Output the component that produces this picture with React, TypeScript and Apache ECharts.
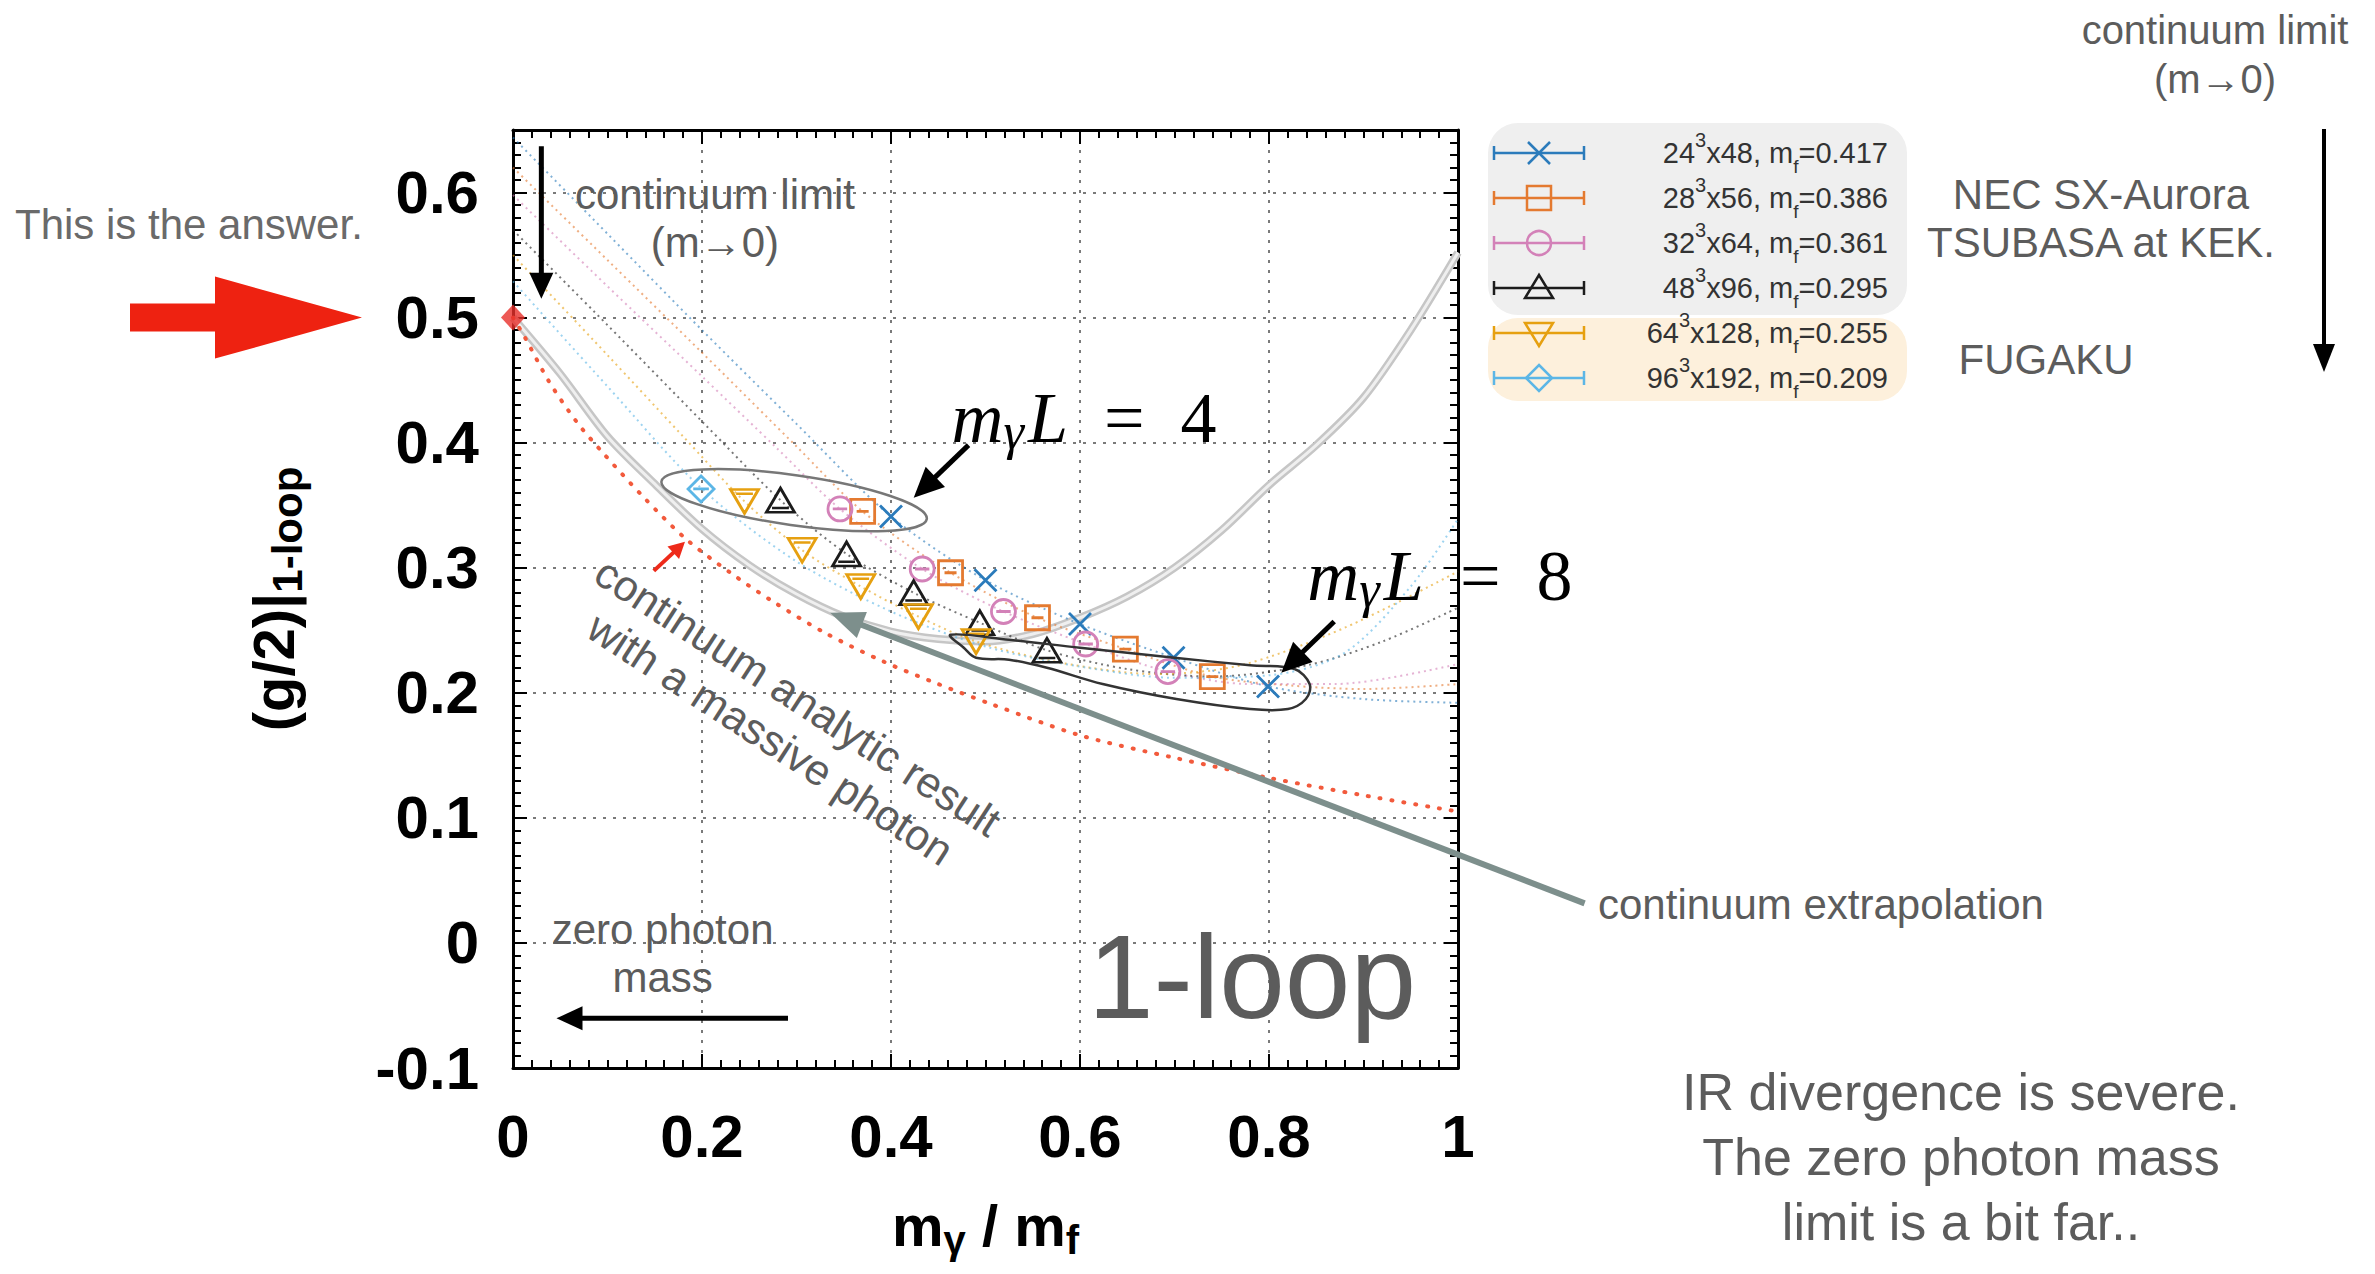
import React, { useEffect, useRef } from 'react';
import * as echarts from 'echarts';

const SANS = "'Liberation Sans', Arial, Helvetica, sans-serif";
const SERIF = "'Liberation Serif', 'Times New Roman', serif";
const ANNOT = '#5c5c5c';

const xTickLabels = ['0', '0.2', '0.4', '0.6', '0.8', '1'];
const yTickLabels = ['-0.1', '0', '0.1', '0.2', '0.3', '0.4', '0.5', '0.6'];

const latticeL = ['24', '28', '32', '48', '64', '96'];
const latticeT = ['48', '56', '64', '96', '128', '192'];
const fermionMasses = ['0.417', '0.386', '0.361', '0.295', '0.255', '0.209'];
const seriesColors = ['#2b7bbb', '#e47a30', '#d381b8', '#1c1c1c', '#e6a010', '#5cb6e6'];
const markerKinds = ['cross', 'square', 'circle', 'triangle', 'triangleDown', 'diamond'];

// lattice data (m_gamma / m_f , (g/2)|1-loop)
const x24 = [0.400, 0.500, 0.600, 0.699, 0.799];
const y24 = [0.341, 0.290, 0.255, 0.228, 0.205];
const x28 = [0.370, 0.463, 0.555, 0.648, 0.740];
const y28 = [0.345, 0.296, 0.260, 0.235, 0.213];
const x32 = [0.346, 0.433, 0.519, 0.606, 0.693];
const y32 = [0.347, 0.299, 0.265, 0.239, 0.217];
const x48 = [0.283, 0.353, 0.424, 0.494, 0.565];
const y48 = [0.354, 0.311, 0.280, 0.256, 0.234];
const x64 = [0.245, 0.306, 0.368, 0.429, 0.490];
const y64 = [0.353, 0.314, 0.285, 0.261, 0.241];
const x96 = [0.199];
const y96 = [0.363];

// dotted fit curves
const fx24 = [0, 0.1, 0.2, 0.3, 0.4, 0.5, 0.6, 0.7, 0.8, 0.9, 1.0];
const fy24 = [0.644, 0.567, 0.490, 0.415, 0.341, 0.290, 0.255, 0.228, 0.205, 0.195, 0.192];
const fx28 = [0, 0.1, 0.2, 0.3, 0.370, 0.463, 0.555, 0.648, 0.740, 0.82, 0.9, 1.0];
const fy28 = [0.620, 0.546, 0.472, 0.397, 0.345, 0.296, 0.260, 0.235, 0.213, 0.206, 0.203, 0.207];
const fx32 = [0, 0.1, 0.2, 0.28, 0.346, 0.433, 0.519, 0.606, 0.693, 0.78, 0.87, 1.0];
const fy32 = [0.598, 0.525, 0.453, 0.395, 0.347, 0.299, 0.265, 0.239, 0.217, 0.207, 0.207, 0.223];
const fx48 = [0, 0.1, 0.2, 0.283, 0.353, 0.424, 0.494, 0.565, 0.65, 0.74, 0.84, 0.92, 1.0];
const fy48 = [0.570, 0.494, 0.417, 0.354, 0.311, 0.280, 0.256, 0.234, 0.219, 0.213, 0.222, 0.241, 0.268];
const fx64 = [0, 0.1, 0.18, 0.245, 0.306, 0.368, 0.429, 0.490, 0.58, 0.68, 0.77, 0.88, 1.0];
const fy64 = [0.550, 0.470, 0.405, 0.353, 0.314, 0.285, 0.261, 0.241, 0.224, 0.215, 0.222, 0.252, 0.297];
const fx96 = [0, 0.1, 0.2, 0.3, 0.4, 0.5, 0.6, 0.7, 0.8, 0.88, 0.95, 1.0];
const fy96 = [0.529, 0.445, 0.363, 0.305, 0.265, 0.237, 0.221, 0.212, 0.214, 0.232, 0.285, 0.339];

// continuum extrapolation (grey band)
const greyX = [0, 0.05, 0.1, 0.15, 0.2, 0.25, 0.3, 0.35, 0.4, 0.45, 0.5, 0.55, 0.6, 0.65, 0.7, 0.75, 0.8, 0.85, 0.9, 0.95, 1.0];
const greyY = [0.5, 0.455, 0.405, 0.367, 0.331, 0.302, 0.279, 0.261, 0.249, 0.243, 0.241, 0.247, 0.26, 0.277, 0.3, 0.33, 0.366, 0.398, 0.436, 0.49, 0.552];

// continuum analytic result with a massive photon (red dotted)
const redX = [0, 0.012, 0.038, 0.068, 0.095, 0.14, 0.183, 0.23, 0.275, 0.33, 0.392, 0.45, 0.506, 0.6, 0.7, 0.8, 0.9, 1.0];
const redY = [0.5, 0.485, 0.449, 0.416, 0.392, 0.355, 0.323, 0.296, 0.273, 0.248, 0.225, 0.207, 0.191, 0.166, 0.148, 0.132, 0.118, 0.105];

// the answer
const answerX = [0];
const answerY = [0.5];

// m_gamma L = 8 loop outline
const loopX = [0.463, 0.525, 0.600, 0.700, 0.780, 0.827, 0.843, 0.839, 0.820, 0.780, 0.702, 0.624, 0.565, 0.525, 0.490, 0.477];
const loopY = [0.2464, 0.2424, 0.236, 0.228, 0.222, 0.219, 0.207, 0.195, 0.187, 0.187, 0.195, 0.207, 0.220, 0.2265, 0.228, 0.236];

const fitX = [fx24, fx28, fx32, fx48, fx64, fx96];
const fitY = [fy24, fy28, fy32, fy48, fy64, fy96];
const ptX = [x24, x28, x32, x48, x64, x96];
const ptY = [y24, y28, y32, y48, y64, y96];

const symbolPaths: Record<string, string> = {
  cross: 'path://M0,0L20,20M20,0L0,20',
  square: 'path://M0,0H20V20H0Z M5,10H15',
  circle: 'path://M0,10A10,10,0,1,0,20,10A10,10,0,1,0,0,10Z M4,10H16',
  triangle: 'path://M10,0L20,17H0Z M4,14H16',
  triangleDown: 'path://M0,0H20L10,17Z M4,3H16',
  diamond: 'path://M10,0L20,10L10,20L0,10Z M4,10H16',
};
const symbolSizes: Record<string, number[]> = {
  cross: [22, 22], square: [24, 24], circle: [24, 24], triangle: [28, 24], triangleDown: [28, 24], diamond: [26, 26],
};

const zip = (a: number[], b: number[]) => a.map((v, i) => [v, b[i]]);

function arrowEls(a: number[], b: number[], color: string, lw: number, hl: number, hw: number) {
  const dx = b[0] - a[0], dy = b[1] - a[1];
  const len = Math.hypot(dx, dy);
  const ux = dx / len, uy = dy / len;
  const bx = b[0] - ux * hl, by = b[1] - uy * hl;
  const px = -uy, py = ux;
  return [
    { type: 'line', z: 60, shape: { x1: a[0], y1: a[1], x2: bx + ux * 2, y2: by + uy * 2 }, style: { stroke: color, lineWidth: lw } },
    { type: 'polygon', z: 60, shape: { points: [[b[0], b[1]], [bx + px * hw / 2, by + py * hw / 2], [bx - px * hw / 2, by - py * hw / 2]] }, style: { fill: color } },
  ];
}

function textEl(text: string, x: number, y: number, size: number, align: string, extra: any = {}) {
  return {
    type: 'text', z: 60, x, y, rotation: extra.rotation || 0,
    style: {
      text, fill: extra.fill || ANNOT, fontSize: size, fontFamily: SANS, fontWeight: extra.fontWeight || 'normal',
      align, textAlign: align, verticalAlign: 'middle', textVerticalAlign: 'middle', lineHeight: extra.lineHeight || size * 1.15,
      rich: extra.rich,
    },
  };
}

function legendMarker(kind: string, cx: number, cy: number, color: string) {
  const st = { stroke: color, lineWidth: 2.5, fill: 'none' };
  if (kind === 'cross') return [
    { type: 'line', z: 61, shape: { x1: cx - 11, y1: cy - 11, x2: cx + 11, y2: cy + 11 }, style: st },
    { type: 'line', z: 61, shape: { x1: cx + 11, y1: cy - 11, x2: cx - 11, y2: cy + 11 }, style: st },
  ];
  if (kind === 'square') return [{ type: 'rect', z: 61, shape: { x: cx - 12, y: cy - 12, width: 24, height: 24 }, style: st }];
  if (kind === 'circle') return [{ type: 'circle', z: 61, shape: { cx, cy, r: 12 }, style: st }];
  if (kind === 'triangle') return [{ type: 'polygon', z: 61, shape: { points: [[cx, cy - 13], [cx + 14, cy + 10], [cx - 14, cy + 10]] }, style: st }];
  if (kind === 'triangleDown') return [{ type: 'polygon', z: 61, shape: { points: [[cx - 14, cy - 10], [cx + 14, cy - 10], [cx, cy + 13]] }, style: st }];
  return [{ type: 'polygon', z: 61, shape: { points: [[cx, cy - 13], [cx + 13, cy], [cx, cy + 13], [cx - 13, cy]] }, style: st }];
}

function buildGraphics(P: (x: number, y: number) => number[]) {
  const els: any[] = [];
  const y05 = P(0, 0.5)[1];
  // big red arrow "This is the answer."
  els.push({
    type: 'polygon', z: 60,
    shape: { points: [[130, y05 - 14], [215, y05 - 14], [215, y05 - 41], [362, y05], [215, y05 + 41], [215, y05 + 14], [130, y05 + 14]] },
    style: { fill: '#ee2211' },
  });
  els.push(textEl('This is the answer.', 15, 224, 42, 'left', { fill: '#6a6a6a' }));

  // continuum limit inside plot
  const cl = P(0.2137, 0.579);
  els.push(textEl('continuum limit\n(m→0)', cl[0], cl[1], 42, 'center', { lineHeight: 48 }));
  els.push(...arrowEls(P(0.030, 0.637), P(0.030, 0.515), '#000', 5, 26, 24));

  // m_gamma L = 4 ellipse
  const ec = P(0.2975, 0.354);
  els.push({ type: 'ellipse', z: 59, x: ec[0], y: ec[1], rotation: -0.14, shape: { cx: 0, cy: 0, rx: 134, ry: 25 }, style: { fill: 'none', stroke: '#777', lineWidth: 2.5 } });
  els.push(...arrowEls(P(0.482, 0.398), P(0.424, 0.356), '#000', 5, 30, 28));
  const mathRich = {
    i: { fontFamily: SERIF, fontStyle: 'italic', fontSize: 72, lineHeight: 80, fill: '#000' },
    g: { fontFamily: SERIF, fontStyle: 'italic', fontSize: 52, lineHeight: 26, verticalAlign: 'bottom', fill: '#000', padding: [0, 4, 0, 0] },
    n: { fontFamily: SERIF, fontSize: 72, lineHeight: 80, fill: '#000' },
  };
  const t4 = P(0.464, 0.42);
  els.push(textEl('{i|m}{g|γ}{i|L}{n|  =  4}', t4[0], t4[1], 72, 'left', { rich: mathRich, fill: '#000' }));
  const t8 = P(0.8406, 0.2935);
  els.push(textEl('{i|m}{g|γ}{i|L}{n|  =  8}', t8[0], t8[1], 72, 'left', { rich: mathRich, fill: '#000' }));

  // m_gamma L = 8 loop
  const loopPts = loopX.map((x, i) => P(x, loopY[i]));
  els.push({ type: 'polygon', z: 59, shape: { points: loopPts, smooth: 0.35 }, style: { fill: 'none', stroke: '#333', lineWidth: 2.5 } });
  els.push(...arrowEls(P(0.869, 0.257), P(0.813, 0.216), '#000', 5, 30, 28));

  // red small arrow and rotated label
  els.push(...arrowEls(P(0.149, 0.2975), P(0.182, 0.3207), '#ee2a1a', 4, 16, 17));
  const rt = P(0.287, 0.180);
  els.push(textEl('continuum analytic result\nwith a massive photon', rt[0], rt[1], 43, 'center', { rotation: -0.576, lineHeight: 50 }));

  // continuum extrapolation arrow
  els.push(...arrowEls(P(1.134, 0.0316), P(0.3356, 0.264), '#7d8f8c', 6, 34, 28));
  els.push(textEl('continuum extrapolation', 1598, 904, 42, 'left'));

  // zero photon mass
  const zp = P(0.1583, -0.0084);
  els.push(textEl('zero photon\nmass', zp[0], zp[1], 42, 'center', { lineHeight: 48 }));
  els.push(...arrowEls(P(0.291, -0.0603), P(0.046, -0.0603), '#000', 5, 26, 24));

  // 1-loop
  const ol = P(0.782, -0.027);
  els.push(textEl('1-loop', ol[0], ol[1], 118, 'center'));

  // bottom right remark
  els.push(textEl('IR divergence is severe.\nThe zero photon mass\nlimit is a bit far..', 1961, 1157, 52, 'center', { lineHeight: 65 }));

  // legend boxes
  els.push({ type: 'rect', z: 10, shape: { x: 1488, y: 123, width: 419, height: 192, r: 30 }, style: { fill: '#efefef' } });
  els.push({ type: 'rect', z: 10, shape: { x: 1488, y: 318, width: 419, height: 83, r: 30 }, style: { fill: '#fdf0dc' } });
  const legRich = {
    n: { fontFamily: SANS, fontSize: 29, lineHeight: 34, fill: '#333' },
    p: { fontFamily: SANS, fontSize: 20, lineHeight: 46, verticalAlign: 'top', fill: '#333' },
    s: { fontFamily: SANS, fontSize: 19, lineHeight: 16, verticalAlign: 'bottom', fill: '#333' },
  };
  latticeL.forEach((ls, i) => {
    const cy = 153 + i * 45;
    const c = seriesColors[i];
    const st = { stroke: c, lineWidth: 2.5 };
    els.push({ type: 'line', z: 61, shape: { x1: 1494, y1: cy, x2: 1584, y2: cy }, style: st });
    els.push({ type: 'line', z: 61, shape: { x1: 1494, y1: cy - 7, x2: 1494, y2: cy + 7 }, style: st });
    els.push({ type: 'line', z: 61, shape: { x1: 1584, y1: cy - 7, x2: 1584, y2: cy + 7 }, style: st });
    els.push(...legendMarker(markerKinds[i], 1539, cy, c));
    els.push(textEl(`{n|${ls}}{p|3}{n|x${latticeT[i]}, m}{s|f}{n|=${fermionMasses[i]}}`, 1888, cy, 29, 'right', { rich: legRich, fill: '#333' }));
  });

  // right side labels
  els.push(textEl('NEC SX-Aurora\nTSUBASA at KEK.', 2101, 218, 42, 'center', { lineHeight: 48 }));
  els.push(textEl('FUGAKU', 2046, 359, 42, 'center'));
  els.push(textEl('continuum limit\n(m→0)', 2215, 54, 40, 'center', { lineHeight: 49 }));
  els.push(...arrowEls([2324, 129], [2324, 372], '#000', 4, 28, 22));
  return els;
}

const tickStyle = { color: '#000', width: 2 };
const axisLineStyle = { show: true, onZero: false, lineStyle: { color: '#000', width: 3 } };

function xAxisDef(pos: string, main: boolean) {
  return {
    type: 'value', min: 0, max: 1, interval: 0.2, position: pos,
    axisLine: axisLineStyle,
    axisTick: { show: true, inside: true, length: 14, lineStyle: tickStyle },
    minorTick: { show: true, splitNumber: 10, length: 8, lineStyle: tickStyle },
    axisLabel: main ? {
      show: true, margin: 38, fontSize: 60, fontWeight: 'bold', color: '#000', fontFamily: SANS,
      formatter: (v: number) => xTickLabels[Math.round(v / 0.2)] ?? '',
    } : { show: false },
    splitLine: main ? { show: true, lineStyle: { type: [3, 7], color: '#7a7a7a', width: 2 } } : { show: false },
    ...(main ? {
      name: '{b|m}{s|γ}{b| / m}{s|f}', nameLocation: 'middle', nameGap: 122,
      nameTextStyle: {
        rich: {
          b: { fontFamily: SANS, fontSize: 58, fontWeight: 'bold', color: '#000', lineHeight: 70 },
          s: { fontFamily: SANS, fontSize: 40, fontWeight: 'bold', color: '#000', lineHeight: 24, verticalAlign: 'bottom' },
        },
      },
    } : {}),
  };
}

function yAxisDef(pos: string, main: boolean, minor: boolean) {
  return {
    type: 'value', min: -0.1, max: 0.65, interval: minor ? 0.01 : 0.1, position: pos,
    axisLine: minor ? { show: false, onZero: false } : axisLineStyle,
    axisTick: { show: true, inside: true, length: minor ? 8 : 14, lineStyle: tickStyle },
    axisLabel: main ? {
      show: true, margin: 34, fontSize: 60, fontWeight: 'bold', color: '#000', fontFamily: SANS,
      formatter: (v: number) => (v > 0.61 ? '' : yTickLabels[Math.round((v + 0.1) / 0.1)] ?? ''),
    } : { show: false },
    splitLine: main ? { show: true, lineStyle: { type: [3, 7], color: '#7a7a7a', width: 2 } } : { show: false },
    ...(main ? {
      name: '{b|(g/2)|}{s|1-loop}', nameLocation: 'middle', nameGap: 205, nameRotate: 90, nameMoveOverlap: false,
      nameTextStyle: {
        rich: {
          b: { fontFamily: SANS, fontSize: 58, fontWeight: 'bold', color: '#000', lineHeight: 70 },
          s: { fontFamily: SANS, fontSize: 42, fontWeight: 'bold', color: '#000', lineHeight: 24, verticalAlign: 'bottom' },
        },
      },
    } : {}),
  };
}

function buildOption() {
  const series: any[] = [];
  series.push({
    type: 'line', name: 'continuum extrapolation', data: zip(greyX, greyY), smooth: 0.3, showSymbol: false, z: 1,
    lineStyle: { color: '#c6c6c6', width: 8 }, silent: true,
  });
  series.push({
    type: 'line', name: 'continuum extrapolation inner', data: zip(greyX, greyY), smooth: 0.3, showSymbol: false, z: 1,
    lineStyle: { color: '#efefef', width: 3 }, silent: true,
  });
  series.push({
    type: 'line', name: 'continuum analytic result', data: zip(redX, redY), smooth: 0.3, showSymbol: false, z: 2,
    lineStyle: { color: '#f25a3c', width: 4, type: [1, 11], cap: 'round' }, silent: true,
  });
  fitX.forEach((fx, i) => {
    series.push({
      type: 'line', name: `fit ${latticeL[i]}³x${latticeT[i]}`, data: zip(fx, fitY[i]), smooth: 0.3, showSymbol: false, z: 2,
      lineStyle: { color: seriesColors[i], width: 2, type: [2, 4], opacity: 0.6 }, silent: true,
    });
  });
  ptX.forEach((px, i) => {
    const kind = markerKinds[i];
    series.push({
      type: 'scatter', name: `${latticeL[i]}³x${latticeT[i]}, mf=${fermionMasses[i]}`, data: zip(px, ptY[i]), z: 5, clip: false,
      symbol: symbolPaths[kind], symbolSize: symbolSizes[kind], symbolKeepAspect: false,
      itemStyle: { color: 'rgba(255,255,255,0)', borderColor: seriesColors[i], borderWidth: 2.8, opacity: 1 },
    });
  });
  series.push({
    type: 'scatter', name: 'answer', data: zip(answerX, answerY), z: 6, clip: false,
    symbol: 'diamond', symbolSize: [24, 26], itemStyle: { color: '#e8302a' },
  });

  return {
    animation: false,
    backgroundColor: '#ffffff',
    textStyle: { fontFamily: SANS },
    grid: { left: 513, top: 130, width: 945, height: 938, show: false, containLabel: false },
    xAxis: [xAxisDef('bottom', true), xAxisDef('top', false)],
    yAxis: [yAxisDef('left', true, false), yAxisDef('left', false, true), yAxisDef('right', false, false), yAxisDef('right', false, true)],
    series,
  };
}

export default function App() {
  const ref = useRef<HTMLDivElement>(null);
  useEffect(() => {
    document.body.style.margin = '0';
    const chart = echarts.init(ref.current!, null, { renderer: 'svg' });
    chart.setOption(buildOption() as any);
    const P = (x: number, y: number) => chart.convertToPixel({ seriesIndex: 0 }, [x, y]) as number[];
    chart.setOption({ graphic: { elements: buildGraphics(P) } } as any);
    return () => chart.dispose();
  }, []);
  return <div ref={ref} style={{ width: 2375, height: 1274 }} />;
}
